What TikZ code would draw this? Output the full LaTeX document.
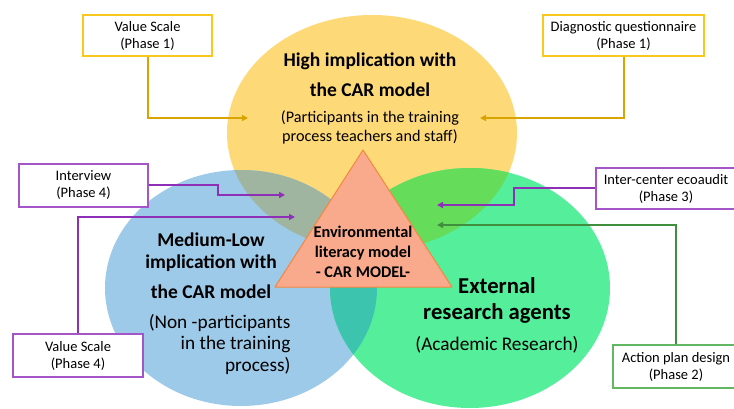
\documentclass[tikz,border=0pt]{standalone}
\usepackage{fontspec}
\setmainfont{Carlito}
\usetikzlibrary{arrows.meta}
\usetikzlibrary{calc}

\definecolor{ycirc}{HTML}{FDD978}
\definecolor{bcirc}{HTML}{9DCAE8}
\definecolor{gcirc}{HTML}{55EE9B}
\definecolor{ybover}{HTML}{A0B5A0}
\definecolor{ygover}{HTML}{66DD5A}
\definecolor{bgover}{HTML}{3CC4AE}
\definecolor{trifill}{HTML}{F9AA8C}
\definecolor{triline}{HTML}{F4873F}
\definecolor{ybox}{HTML}{F7C81E}
\definecolor{ylink}{HTML}{D9A300}
\definecolor{pbox}{HTML}{A456C8}
\definecolor{plink}{HTML}{8E2FB8}
\definecolor{gbox}{HTML}{62B862}
\definecolor{glink}{HTML}{3F8F3F}

\tikzset{
  phasebox/.style={draw, fill=white, line width=1.3pt, inner sep=2pt, align=center,
    font=\fontsize{14.5}{17}\selectfont},
  link/.style={line width=2pt, -{Triangle[length=6pt, width=6pt]}},
  bigtitle/.style={align=center, font=\bfseries\fontsize{19.5}{30}\selectfont},
  subtitle/.style={align=center, font=\fontsize{16.2}{19}\selectfont},
}

\begin{document}
\begin{tikzpicture}[x=1pt, y=-1pt]
    \useasboundingbox (0,0) rectangle (734,409);

    % circles
    \fill[ycirc] (372,133) ellipse [x radius=145, y radius=118];
    \fill[bcirc] (241,288) ellipse [x radius=136, y radius=118];
    \fill[gcirc] (470,288) ellipse [x radius=140, y radius=120];
    \begin{scope}
      \clip (372,133) ellipse [x radius=145, y radius=118];
      \fill[ybover] (241,288) ellipse [x radius=136, y radius=118];
      \fill[ygover] (470,288) ellipse [x radius=140, y radius=120];
    \end{scope}
    \begin{scope}
      \clip (241,288) ellipse [x radius=136, y radius=118];
      \fill[bgover] (470,288) ellipse [x radius=140, y radius=120];
    \end{scope}

    % triangle
    \coordinate (apex) at (363,150);
    \coordinate (left) at (275,287);
    \coordinate (right) at (452,287);
    \draw[fill=trifill, draw=triline, line width=1pt, line join=round] (apex) -- (left) -- (right) -- cycle;
    \node[align=center, font=\bfseries\fontsize{16.3}{20}\selectfont] (car) at (363,252)
      {Environmental\\literacy model\\- CAR MODEL-};

    % circle texts
    \node[bigtitle] (hightitle) at (370,75) {High implication with\\the CAR model};
    \node[subtitle] (highsub) at (370,127) {(Participants in the training\\process teachers and staff)};
    \node[align=center, font=\bfseries\fontsize{19.5}{22}\selectfont] (medtitle) at (211,266)
      {Medium-Low\\implication with\\[8pt]the CAR model};
    \node[anchor=east, align=right, font=\fontsize{19.3}{21.5}\selectfont] (medsub) at (294,344)
      {(Non -participants\\in the training\\process)};
    \node[align=center, font=\bfseries\fontsize{22.7}{26}\selectfont] (exttitle) at (497,300)
      {External\\research agents};
    \node[font=\fontsize{19.3}{22}\selectfont] (extsub) at (497,345) {(Academic Research)};

    % phase boxes
    \node[phasebox, draw=ybox, minimum width=129pt, minimum height=41pt] (vs1) at (147.5,35.5)
      {Value Scale\\(Phase 1)};
    \node[phasebox, draw=ybox, minimum width=161pt, minimum height=41pt] (dq) at (623.5,35.5)
      {Diagnostic questionnaire\\(Phase 1)};
    \node[phasebox, draw=pbox, minimum width=129pt, minimum height=43pt] (iv) at (83.5,185.5)
      {Interview\\(Phase 4)};
    \node[phasebox, draw=pbox, minimum width=130pt, minimum height=43pt] (vs4) at (78,355.5)
      {Value Scale\\(Phase 4)};
    \node[phasebox, draw=pbox, minimum width=140pt, minimum height=41pt] (ic) at (666,188.5)
      {Inter-center ecoaudit\\(Phase 3)};
    \node[phasebox, draw=gbox, minimum width=126pt, minimum height=43pt] (ap) at (676,366.5)
      {Action plan design\\(Phase 2)};

    % arrow ends
    \coordinate (vs1tip) at (248,118);
    \coordinate (dqtip) at (480,118);
    \coordinate (ivtip) at (285,195);
    \coordinate (vs4tip) at (295,217);
    \coordinate (ictip) at (437,205);
    \coordinate (aptip) at (437,225);

    \draw[link, ylink] (vs1.south) |- (vs1tip);
    \draw[link, ylink] (dq.south) |- (dqtip);
    \draw[link, plink] (iv.east) -- ++(69,0) |- (ivtip);
    \draw[link, plink] (vs4.north) |- (vs4tip);
    \draw[link, plink] (ic.west) -- ++(-81,0) |- (ictip);
    \draw[link, glink] (ap.north) |- (aptip);
\end{tikzpicture}
\end{document}
